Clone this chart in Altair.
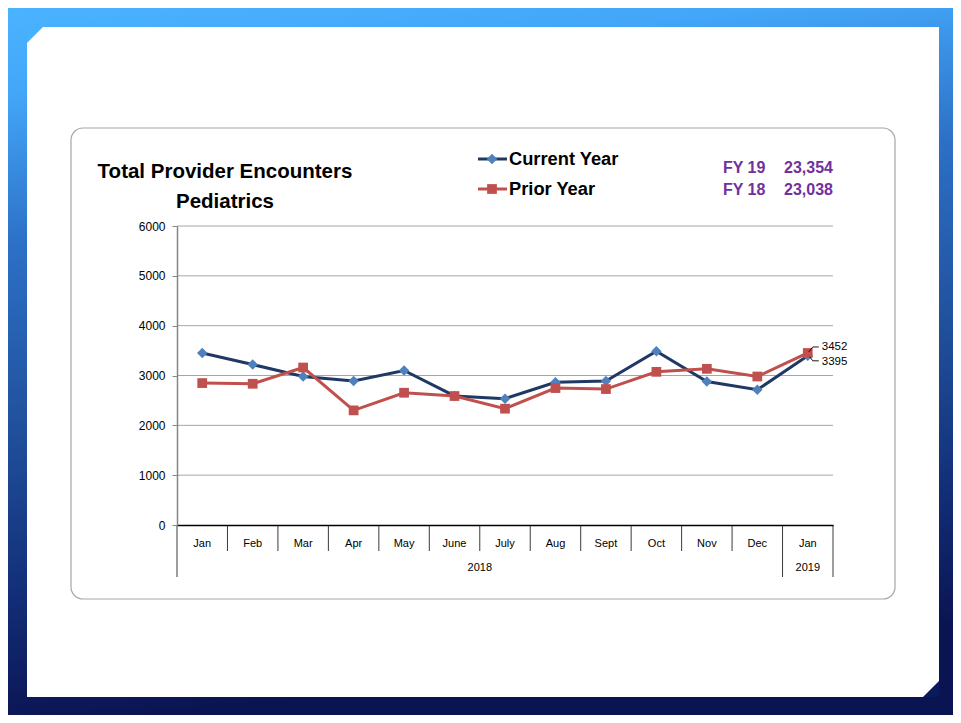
import altair as alt
import pandas as pd

# ---------------- data ----------------
keys = ["Jan-18", "Feb-18", "Mar-18", "Apr-18", "May-18", "Jun-18", "Jul-18",
        "Aug-18", "Sep-18", "Oct-18", "Nov-18", "Dec-18", "Jan-19"]
month_labels = ["Jan", "Feb", "Mar", "Apr", "May", "June", "July",
                "Aug", "Sept", "Oct", "Nov", "Dec", "Jan"]
current_year = [3452, 3220, 2980, 2888, 3100, 2590, 2535, 2865, 2890, 3485, 2880, 2714, 3395]
prior_year = [2848, 2834, 3160, 2300, 2654, 2588, 2334, 2748, 2728, 3074, 3134, 2980, 3452]
y_ticks = [0, 1000, 2000, 3000, 4000, 5000, 6000]
years = [("Jul-18", "2018", 0), ("Jan-19", "2019", 0.5)]
fy_lines = [("FY 19", "23,354"), ("FY 18", "23,038")]

W, H = 656, 299
FONT = "Liberation Sans"

label_map = {k: m for k, m in zip(keys, month_labels)}
label_expr = "{" + ",".join(f"'{k}':'{m}'" for k, m in label_map.items()) + "}[datum.value]"

df = pd.DataFrame({"key": keys, "current": current_year, "prior": prior_year})

xscale = alt.Scale(type="band", domain=keys, paddingInner=0, paddingOuter=0)
yscale = alt.Scale(domain=[0, 6000], nice=False, zero=True)

x_axis = alt.Axis(labelExpr=label_expr, ticks=False, domainColor="#000000", domainWidth=1.5,
                  labelFont=FONT, labelFontSize=11, labelColor="#000000", labelPadding=12,
                  labelAngle=0, grid=False, zindex=1, title=None)
y_axis = alt.Axis(values=y_ticks, grid=False, domainColor="#868686", domainWidth=1.5,
                  tickColor="#868686", tickSize=5, labelPadding=7, labelFont=FONT,
                  labelFontSize=12, labelColor="#000000", zindex=1, format="d", title=None)


def X(field="key:N", bp=None):
    if bp is None:
        return alt.X(field, scale=xscale, axis=x_axis, title=None)
    return alt.X(field, scale=xscale, axis=x_axis, title=None, bandPosition=bp)


def X2(field="key"):
    return alt.X2(field)


def Y(field):
    return alt.Y(field, scale=yscale, axis=y_axis, title=None)


one = alt.Data(values=[{"a": 1}])

# ---------------- decoration: slide frame ----------------
grad = alt.Gradient(
    gradient="linear", x1=0, y1=0, x2=0.15, y2=1,
    stops=[alt.GradientStop(color="#4AB3FF", offset=0),
           alt.GradientStop(color="#43A6F8", offset=0.12),
           alt.GradientStop(color="#2C70C6", offset=0.33),
           alt.GradientStop(color="#21529E", offset=0.57),
           alt.GradientStop(color="#13307A", offset=0.8),
           alt.GradientStop(color="#0A1452", offset=1)])

frame = alt.Chart(one).mark_rect(color=grad).encode(
    x=alt.value(-169), x2=alt.value(776), y=alt.value(-218), y2=alt.value(489))
inner = alt.Chart(one).mark_rect(color="white").encode(
    x=alt.value(-150), x2=alt.value(762), y=alt.value(-199), y2=alt.value(471))
corner_tl = alt.Chart(one).mark_point(shape="M -1 -1 L 1 -1 L -1 1 Z", size=256, filled=True,
                                      color="#48B1FF", opacity=1).encode(
    x=alt.value(-142), y=alt.value(-191))
corner_br = alt.Chart(one).mark_point(shape="M 1 1 L 1 -1 L -1 1 Z", size=256, filled=True,
                                      color="#0B1A5A", opacity=1).encode(
    x=alt.value(754), y=alt.value(463))
box = alt.Chart(one).mark_rect(fill="white", stroke="#A6A6A6", strokeWidth=1.2, cornerRadius=12).encode(
    x=alt.value(-106), x2=alt.value(718), y=alt.value(-98), y2=alt.value(373))

# ---------------- gridlines & dividers ----------------
grid = alt.Chart(alt.Data(values=[{"v": v} for v in y_ticks if v > 0])).mark_rule(
    color="#A6A6A6", strokeWidth=1).encode(
    y=Y("v:Q"), x=alt.value(0), x2=alt.value(W))

short_div = alt.Chart(alt.Data(values=[{"key": k} for k in keys[1:12]])).mark_rule(
    color="#3A3A3A", strokeWidth=1).encode(
    x=X(bp=0), y=alt.value(H), y2=alt.value(H + 26))
long_div0 = alt.Chart(alt.Data(values=[{"key": keys[0]}, {"key": keys[12]}])).mark_rule(
    color="#3A3A3A", strokeWidth=1).encode(
    x=X(bp=0), y=alt.value(H), y2=alt.value(H + 52))
long_div1 = alt.Chart(alt.Data(values=[{"key": keys[12]}])).mark_rule(
    color="#3A3A3A", strokeWidth=1).encode(
    x=X(bp=1), y=alt.value(H), y2=alt.value(H + 52))

year_layers = []
for k, t, bp in years:
    year_layers.append(
        alt.Chart(alt.Data(values=[{"key": k, "t": t}])).mark_text(
            font=FONT, fontSize=11, color="#000000", baseline="middle", align="center").encode(
            x=X(bp=bp), y=alt.value(H + 43), text="t:N"))

# ---------------- data series ----------------
base = alt.Chart(df)
cur_line = base.mark_line(color="#1F3864", strokeWidth=3).encode(x=X(), y=Y("current:Q"))
cur_pts = base.mark_point(shape="diamond", filled=True, size=110, color="#4F81BD", opacity=1).encode(
    x=X(), y=Y("current:Q"))
pri_line = base.mark_line(color="#C0504D", strokeWidth=3).encode(x=X(), y=Y("prior:Q"))
pri_pts = base.mark_point(shape="square", filled=True, size=95, color="#C0504D", opacity=1).encode(
    x=X(), y=Y("prior:Q"))

last = df[df["key"] == keys[-1]]
lbl_prior = alt.Chart(last).mark_text(font=FONT, fontSize=11.5, align="left", baseline="middle",
                                      dx=14, dy=-6, color="#000000").encode(
    x=X(), y=Y("prior:Q"), text=alt.Text("prior:Q", format="d"))
lbl_cur = alt.Chart(last).mark_text(font=FONT, fontSize=11.5, align="left", baseline="middle",
                                    dx=14, dy=6, color="#000000").encode(
    x=X(), y=Y("current:Q"), text=alt.Text("current:Q", format="d"))

# leader brackets from the Jan 2019 points to their labels
def leader(field, xo1, yo1, xo2, yo2):
    return alt.Chart(last).mark_rule(color="#000000", strokeWidth=0.9,
                                     xOffset=xo1, yOffset=yo1, x2Offset=xo2, y2Offset=yo2).encode(
        x=X(), x2=X2(), y=Y(f"{field}:Q"), y2=alt.Y2(field))

leaders = [
    leader("prior", 1, -1, 5, -6), leader("prior", 5, -6, 11, -6),
    leader("current", 2, 1, 5, 5), leader("current", 5, 5, 11, 5),
]

# ---------------- titles, legend, FY totals ----------------
def txt(s, x, y, size, color="#000000", align="left", weight="bold"):
    return alt.Chart(one).mark_text(text=s, font=FONT, fontSize=size, fontWeight=weight, color=color,
                                    align=align, baseline="alphabetic").encode(
        x=alt.value(x), y=alt.value(y))

title1 = txt("Total Provider Encounters", 48, -48, 20.5, align="center")
title2 = txt("Pediatrics", 48, -18, 20.5, align="center")

leg_cur_line = alt.Chart(one).mark_rule(color="#1F3864", strokeWidth=3).encode(
    x=alt.value(301), x2=alt.value(330), y=alt.value(-67))
leg_cur_pt = alt.Chart(one).mark_point(shape="diamond", filled=True, size=110, color="#4F81BD",
                                       opacity=1).encode(x=alt.value(315), y=alt.value(-67))
leg_pri_line = alt.Chart(one).mark_rule(color="#C0504D", strokeWidth=3).encode(
    x=alt.value(301), x2=alt.value(330), y=alt.value(-37))
leg_pri_pt = alt.Chart(one).mark_point(shape="square", filled=True, size=95, color="#C0504D",
                                       opacity=1).encode(x=alt.value(315), y=alt.value(-37))
leg_cur_txt = txt("Current Year", 332, -61, 18.3)
leg_pri_txt = txt("Prior Year", 332, -31, 18.3)

fy_layers = []
for i, (a, b) in enumerate(fy_lines):
    yy = -53 + i * 22
    fy_layers.append(txt(a, 546, yy, 16, color="#7030A0"))
    fy_layers.append(txt(b, W, yy, 16, color="#7030A0", align="right"))

chart = alt.layer(
    frame, inner, corner_tl, corner_br, box,
    grid, short_div, long_div0, long_div1, *year_layers,
    cur_line, cur_pts, pri_line, pri_pts, *leaders, lbl_prior, lbl_cur,
    title1, title2, leg_cur_line, leg_cur_pt, leg_pri_line, leg_pri_pt, leg_cur_txt, leg_pri_txt,
    *fy_layers,
).properties(
    width=W, height=H,
    autosize=alt.AutoSizeParams(type="none"),
    padding={"left": 169, "top": 218, "right": 120, "bottom": 190},
).configure_view(stroke=None).configure(background="white")

chart.save("out.html", embed_options={"renderer": "svg", "actions": False})
